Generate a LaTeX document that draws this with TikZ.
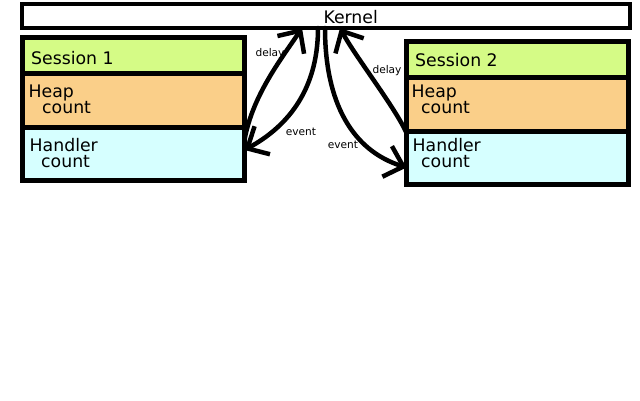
\documentclass[tikz,border=0pt]{standalone}
\usepackage{fontspec}
\setmainfont{DejaVu Sans}
\usetikzlibrary{arrows.meta}
\definecolor{sgreen}{RGB}{213,251,134}
\definecolor{sorange}{RGB}{250,207,137}
\definecolor{scyan}{RGB}{214,255,255}
\begin{document}
\begin{tikzpicture}[x=1pt,y=-1pt,
  box/.style={draw=black, line width=5pt, rectangle, inner sep=0pt, outer sep=0pt, anchor=north west, minimum width=222pt},
  txt/.style={inner sep=0pt, anchor=base west, font=\fontsize{17.3}{20}\selectfont},
  lbl/.style={inner sep=1pt, font=\fontsize{10.6}{12}\selectfont},
  flow/.style={line width=4.5pt, line cap=round, line join=round, -{Straight Barb[length=17pt,width=32pt]}}
]
\useasboundingbox (0,0) rectangle (640,400);
\fill[white] (0,0) rectangle (640,400);

% Kernel
\node[draw=black, line width=4.5pt, rectangle, inner sep=0pt, outer sep=0pt, anchor=north west,
      minimum width=608pt, minimum height=24pt, fill=white] (kernel) at (22,4) {};
\node[inner sep=0pt, anchor=base, font=\fontsize{17.3}{20}\selectfont] (kernellbl) at (350.7,23) {Kernel};

% Session 1
\node[box, fill=sgreen,  minimum height=35.5pt] (s1head)    at (22.5,37.5) {};
\node[box, fill=sorange, minimum height=54pt]   (s1heap)    at (22.5,73) {};
\node[box, fill=scyan,   minimum height=53.5pt] (s1handler) at (22.5,127) {};
\node[txt] (t1a) at (31,64) {Session 1};
\node[txt] (t1b) at (28.5,97) {Heap};
\node[txt] (t1c) at (42,113) {count};
\node[txt] (t1d) at (29.5,151) {Handler};
\node[txt] (t1e) at (41,167) {count};

% Session 2
\node[box, fill=sgreen,  minimum height=35.5pt] (s2head)    at (406.5,41.5) {};
\node[box, fill=sorange, minimum height=54pt]   (s2heap)    at (406.5,77) {};
\node[box, fill=scyan,   minimum height=53pt]   (s2handler) at (406.5,131) {};
\node[txt] (t2a) at (415,66.5) {Session 2};
\node[txt] (t2b) at (411.5,97) {Heap};
\node[txt] (t2c) at (421,113) {count};
\node[txt] (t2d) at (412.5,151) {Handler};
\node[txt] (t2e) at (421,167) {count};

% Connectors
\draw[flow] ([yshift=-13pt]s1handler.north east) .. controls +(8,-45) and +(-20,30) .. ([xshift=-24pt]kernel.south);
\draw[flow] ([xshift=-8pt]kernel.south) .. controls +(0,65) and +(40,-22) .. ([yshift=-23pt]s1handler.north east);
\draw[flow] ([xshift=-1pt]kernel.south) .. controls +(0,75) and +(-54,-17) .. ([yshift=-10pt]s2handler.west);
\draw[flow] ([yshift=-2pt]s2handler.north west) .. controls +(-11,-25) and +(15,28) .. ([xshift=14pt]kernel.south);

% Labels
\node[lbl] (ld1) at (270,54) {delay};
\node[lbl] (le1) at (301,132) {event};
\node[lbl] (ld2) at (387,71) {delay};
\node[lbl] (le2) at (343,145) {event};
\end{tikzpicture}
\end{document}
